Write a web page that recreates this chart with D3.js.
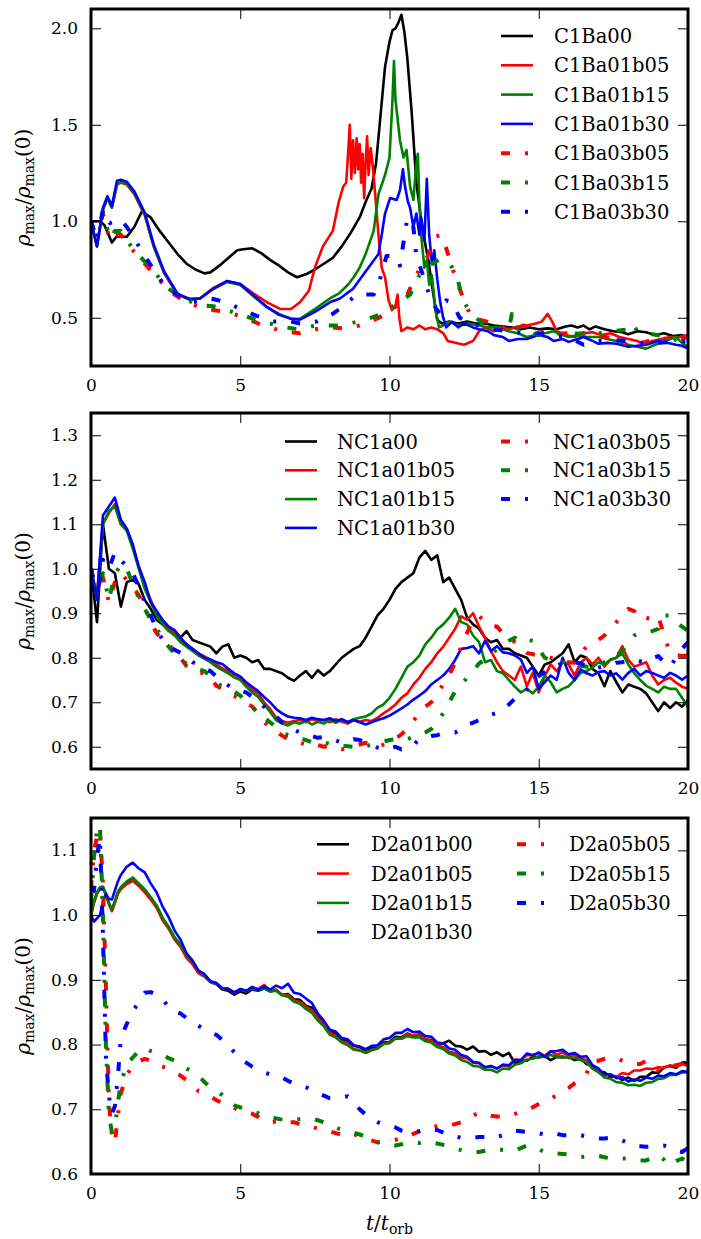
<!DOCTYPE html>
<html lang="en">
<head>
<meta charset="UTF-8" />
<title>rho_max / rho_max(0)</title>
<script src="https://cdn.jsdelivr.net/npm/d3@7"></script>
<style>
  html, body { margin: 0; padding: 0; background: #fff; }
  svg { display: block; }
</style>
</head>
<body>
<svg id="svgBox" width="701" height="1239"></svg>
<script>
// ---------- shared labels / ticks ----------
const xTicks = [0, 5, 10, 15, 20]
const yTicksC1 = [0.5, 1.0, 1.5, 2.0]
const yTicksNC1 = [0.6, 0.7, 0.8, 0.9, 1.0, 1.1, 1.2, 1.3]
const yTicksD2 = [0.6, 0.7, 0.8, 0.9, 1.0, 1.1]

const namesC1 = ['C1Ba00', 'C1Ba01b05', 'C1Ba01b15', 'C1Ba01b30', 'C1Ba03b05', 'C1Ba03b15', 'C1Ba03b30']
const namesNC1 = ['NC1a00', 'NC1a01b05', 'NC1a01b15', 'NC1a01b30', 'NC1a03b05', 'NC1a03b15', 'NC1a03b30']
const namesD2 = ['D2a01b00', 'D2a01b05', 'D2a01b15', 'D2a01b30', 'D2a05b05', 'D2a05b15', 'D2a05b30']
const lineColors = ['#000000', '#ff0000', '#008000', '#0000ff', '#ff0000', '#008000', '#0000ff']
const lineDashed = [false, false, false, false, true, true, true]

// ---------- panel 1 : C1B runs, [t, rho] ----------
const C1Ba00 = [[0,1.00],[0.3,1.00],[0.45,0.98],[0.7,0.89],[0.85,0.92],[1.2,0.92],[1.45,0.97],[1.7,1.05],[2.0,1.02],[2.3,0.95],[2.6,0.89],[2.9,0.83],[3.2,0.78],[3.5,0.75],[3.8,0.73],[4.0,0.735],[4.3,0.77],[4.6,0.81],[4.9,0.85],[5.1,0.855],[5.4,0.86],[5.7,0.835],[6.0,0.80],[6.3,0.77],[6.6,0.735],[6.9,0.71],[7.2,0.725],[7.5,0.75],[7.8,0.78],[8.1,0.81],[8.4,0.87],[8.7,0.94],[9.0,1.02],[9.2,1.10],[9.4,1.17],[9.55,1.30],[9.7,1.55],[9.85,1.80],[10.0,1.93],[10.1,1.99],[10.2,2.00],[10.3,2.03],[10.4,2.07],[10.5,1.98],[10.6,1.84],[10.75,1.55],[10.9,1.20],[11.1,0.96],[11.3,0.80],[11.45,0.64],[11.6,0.49],[11.75,0.47],[12.0,0.48],[12.3,0.47],[12.6,0.48],[12.9,0.47],[13.2,0.47],[13.5,0.46],[13.8,0.455],[14.1,0.45],[14.4,0.44],[14.7,0.45],[15.0,0.44],[15.3,0.445],[15.6,0.44],[15.9,0.455],[16.1,0.46],[16.3,0.45],[16.5,0.46],[16.7,0.44],[16.9,0.455],[17.2,0.44],[17.5,0.43],[17.8,0.425],[18.0,0.415],[18.3,0.43],[18.6,0.425],[18.9,0.41],[19.2,0.42],[19.5,0.405],[19.8,0.41],[20,0.40]]
const C1Ba01b05 = [[0,1.00],[0.2,0.87],[0.4,1.06],[0.55,1.12],[0.7,1.07],[0.87,1.19],[1.0,1.20],[1.2,1.19],[1.45,1.14],[1.8,1.03],[2.1,0.87],[2.45,0.73],[2.9,0.62],[3.3,0.60],[3.65,0.60],[4.1,0.655],[4.55,0.69],[5.0,0.675],[5.45,0.625],[5.9,0.58],[6.35,0.545],[6.7,0.545],[7.0,0.58],[7.3,0.64],[7.5,0.76],[7.77,0.87],[8.1,0.95],[8.3,1.10],[8.45,1.18],[8.55,1.20],[8.6,1.32],[8.67,1.50],[8.72,1.22],[8.78,1.42],[8.84,1.25],[8.9,1.43],[8.95,1.27],[9.0,1.40],[9.05,1.20],[9.1,1.35],[9.15,1.12],[9.2,1.30],[9.25,1.44],[9.3,1.24],[9.37,1.38],[9.45,1.27],[9.52,1.14],[9.63,0.93],[9.74,0.76],[9.85,0.71],[9.97,0.59],[10.08,0.54],[10.2,0.56],[10.27,0.62],[10.33,0.50],[10.4,0.43],[10.6,0.45],[10.8,0.44],[11.0,0.46],[11.2,0.44],[11.4,0.45],[11.6,0.44],[11.8,0.42],[11.95,0.38],[12.2,0.37],[12.5,0.36],[12.8,0.38],[13.0,0.43],[13.2,0.45],[13.5,0.43],[13.8,0.45],[14.0,0.44],[14.3,0.455],[14.6,0.46],[14.9,0.47],[15.1,0.48],[15.3,0.52],[15.45,0.48],[15.6,0.43],[15.9,0.41],[16.2,0.40],[16.5,0.42],[16.8,0.425],[17.1,0.41],[17.4,0.42],[17.7,0.40],[18.0,0.39],[18.3,0.38],[18.5,0.36],[18.8,0.38],[19.1,0.39],[19.4,0.40],[19.7,0.40],[20,0.41]]
const C1Ba01b15 = [[0,1.00],[0.2,0.87],[0.4,1.06],[0.55,1.12],[0.7,1.07],[0.87,1.19],[1.0,1.205],[1.2,1.195],[1.45,1.145],[1.8,1.035],[2.1,0.87],[2.45,0.735],[2.9,0.62],[3.3,0.595],[3.65,0.60],[4.1,0.65],[4.55,0.685],[5.0,0.67],[5.45,0.61],[5.9,0.555],[6.3,0.52],[6.7,0.495],[7.0,0.495],[7.5,0.545],[8.0,0.60],[8.3,0.625],[8.6,0.67],[8.8,0.71],[9.0,0.76],[9.2,0.83],[9.47,0.95],[9.63,1.14],[9.85,1.24],[10.0,1.33],[10.1,1.63],[10.15,1.83],[10.2,1.63],[10.3,1.49],[10.35,1.42],[10.47,1.33],[10.57,1.37],[10.69,1.18],[10.8,1.11],[10.9,1.30],[10.95,1.35],[11.0,1.10],[11.06,0.93],[11.17,0.76],[11.25,0.80],[11.33,0.67],[11.42,0.72],[11.55,0.53],[11.66,0.45],[11.8,0.46],[12.0,0.48],[12.3,0.46],[12.6,0.47],[13.0,0.46],[13.3,0.45],[13.6,0.45],[14.0,0.43],[14.3,0.42],[14.6,0.40],[14.9,0.41],[15.2,0.42],[15.5,0.43],[15.8,0.41],[16.0,0.40],[16.3,0.41],[16.6,0.40],[17.0,0.40],[17.3,0.39],[17.6,0.38],[18.0,0.36],[18.3,0.35],[18.6,0.34],[18.9,0.36],[19.1,0.37],[19.4,0.39],[19.6,0.40],[19.8,0.37],[20,0.35]]
const C1Ba01b30 = [[0,1.00],[0.2,0.87],[0.4,1.07],[0.55,1.13],[0.7,1.08],[0.87,1.21],[1.0,1.215],[1.2,1.205],[1.45,1.155],[1.8,1.045],[2.1,0.88],[2.45,0.74],[2.9,0.625],[3.3,0.595],[3.65,0.60],[4.1,0.65],[4.55,0.69],[5.0,0.675],[5.45,0.615],[5.9,0.555],[6.3,0.515],[6.7,0.495],[7.0,0.49],[7.5,0.53],[8.0,0.58],[8.34,0.60],[8.78,0.65],[9.2,0.74],[9.63,0.83],[9.74,0.93],[9.85,1.04],[10.02,1.12],[10.24,1.11],[10.35,1.16],[10.45,1.27],[10.52,1.18],[10.62,1.10],[10.69,1.07],[10.8,0.97],[10.9,1.04],[11.0,0.93],[11.06,1.02],[11.17,0.90],[11.25,1.22],[11.33,0.93],[11.42,0.78],[11.5,0.85],[11.6,0.70],[11.7,0.58],[11.8,0.50],[11.9,0.45],[12.1,0.48],[12.3,0.45],[12.5,0.47],[12.8,0.45],[13.0,0.44],[13.3,0.43],[13.5,0.41],[13.8,0.40],[14.0,0.38],[14.3,0.39],[14.6,0.39],[15.0,0.41],[15.3,0.40],[15.5,0.38],[15.8,0.39],[16.0,0.375],[16.3,0.39],[16.5,0.40],[16.8,0.38],[17.0,0.365],[17.3,0.37],[17.6,0.365],[18.0,0.35],[18.3,0.355],[18.6,0.36],[19.0,0.38],[19.3,0.37],[19.6,0.36],[19.8,0.355],[20,0.34]]
const C1Ba03b05 = [[0,1.00],[0.2,0.90],[0.4,1.04],[0.55,0.95],[0.65,0.90],[0.8,0.93],[1.0,0.93],[1.2,0.89],[1.4,0.85],[1.8,0.78],[2.1,0.73],[2.6,0.64],[3.0,0.60],[3.4,0.57],[3.7,0.55],[4.1,0.54],[4.5,0.53],[4.75,0.52],[5.2,0.50],[5.6,0.47],[5.9,0.455],[6.4,0.43],[7.0,0.42],[7.5,0.44],[8.0,0.45],[8.5,0.445],[9.0,0.46],[9.5,0.49],[9.9,0.52],[10.3,0.57],[10.6,0.62],[10.8,0.69],[11.0,0.75],[11.25,0.81],[11.55,0.92],[11.72,0.93],[11.9,0.86],[12.1,0.76],[12.35,0.65],[12.6,0.55],[12.8,0.49],[13.0,0.49],[13.5,0.47],[14.0,0.43],[14.5,0.46],[15.0,0.43],[15.5,0.415],[16.0,0.42],[16.5,0.42],[17.0,0.41],[17.5,0.39],[18.0,0.36],[18.5,0.37],[19.0,0.40],[19.5,0.38],[20,0.40]]
const C1Ba03b15 = [[0,1.00],[0.2,0.90],[0.4,1.05],[0.55,0.96],[0.65,0.91],[0.8,0.95],[1.0,0.95],[1.2,0.90],[1.4,0.86],[1.8,0.79],[2.1,0.74],[2.6,0.65],[3.0,0.61],[3.4,0.58],[3.7,0.565],[4.1,0.56],[4.5,0.54],[5.0,0.52],[5.5,0.49],[6.0,0.47],[6.5,0.45],[7.0,0.44],[7.5,0.46],[8.0,0.46],[8.4,0.46],[9.2,0.49],[9.74,0.52],[10.2,0.57],[10.69,0.62],[11.0,0.72],[11.33,0.77],[11.66,0.80],[11.9,0.80],[12.1,0.76],[12.3,0.69],[12.45,0.59],[12.67,0.54],[12.9,0.50],[13.2,0.46],[13.6,0.45],[14.0,0.44],[14.1,0.52],[14.2,0.45],[14.5,0.43],[15.0,0.41],[15.5,0.42],[16.0,0.415],[16.5,0.42],[17.0,0.42],[17.5,0.43],[18.0,0.44],[18.15,0.47],[18.3,0.43],[18.6,0.42],[19.0,0.41],[19.5,0.38],[19.8,0.41],[20,0.43]]
const C1Ba03b30 = [[0,1.00],[0.2,0.90],[0.4,1.06],[0.63,0.99],[0.8,1.00],[1.0,1.01],[1.2,0.97],[1.37,0.93],[1.8,0.82],[2.1,0.75],[2.45,0.67],[2.9,0.62],[3.4,0.58],[4.0,0.60],[4.55,0.58],[5.0,0.545],[5.55,0.51],[6.1,0.48],[6.7,0.48],[7.0,0.47],[7.55,0.48],[8.1,0.52],[8.45,0.56],[8.9,0.62],[9.47,0.62],[9.7,0.71],[9.9,0.82],[10.2,0.82],[10.35,0.77],[10.5,0.92],[10.6,1.02],[10.8,0.97],[10.9,0.82],[11.1,0.73],[11.33,0.62],[11.55,0.55],[11.7,0.52],[11.9,0.59],[12.1,0.58],[12.35,0.50],[12.6,0.48],[13.0,0.46],[13.5,0.44],[14.0,0.43],[14.5,0.42],[15.0,0.42],[15.5,0.41],[16.0,0.40],[16.5,0.36],[17.0,0.38],[17.5,0.385],[18.0,0.38],[18.5,0.37],[19.0,0.37],[19.5,0.375],[20,0.38]]

// ---------- panel 2 : NC1 runs, sampled every 0.2 orbits ----------
const tNC1 = d3.range(0, 20.001, 0.2)
const NC1a00 = [
  1.00, 0.88, 1.10, 1.00, 0.99,
  0.915, 0.97, 0.975, 0.965, 0.93,
  0.91, 0.885, 0.875, 0.865, 0.86,
  0.845, 0.86, 0.84, 0.835, 0.83,
  0.825, 0.81, 0.825, 0.83, 0.80,
  0.805, 0.80, 0.79, 0.795, 0.775,
  0.775, 0.77, 0.765, 0.755, 0.748,
  0.76, 0.77, 0.755, 0.772, 0.76,
  0.77, 0.785, 0.80, 0.81, 0.82,
  0.826, 0.845, 0.87, 0.895, 0.91,
  0.93, 0.955, 0.97, 0.98, 0.99,
  1.025, 1.04, 1.02, 1.03, 0.97,
  0.98, 0.955, 0.93, 0.89, 0.875,
  0.865, 0.845, 0.835, 0.84, 0.82,
  0.82, 0.81, 0.805, 0.80, 0.78,
  0.76, 0.785, 0.79, 0.80, 0.81,
  0.83, 0.79, 0.805, 0.80, 0.775,
  0.765, 0.736, 0.77, 0.745, 0.722,
  0.74, 0.735, 0.73, 0.72, 0.70,
  0.68, 0.70, 0.687, 0.70, 0.69,
  0.705]
const NC1a01b05 = [
  1.00, 0.94, 1.10, 1.125, 1.145,
  1.10, 1.088, 1.05, 1.005, 0.96,
  0.93, 0.90, 0.88, 0.865, 0.855,
  0.84, 0.83, 0.82, 0.81, 0.803,
  0.795, 0.785, 0.776, 0.77, 0.762,
  0.755, 0.74, 0.728, 0.72, 0.70,
  0.685, 0.665, 0.658, 0.654, 0.658,
  0.66, 0.655, 0.662, 0.658, 0.66,
  0.655, 0.662, 0.656, 0.652, 0.66,
  0.656, 0.66, 0.658, 0.665, 0.675,
  0.684, 0.695, 0.71, 0.72, 0.74,
  0.755, 0.775, 0.79, 0.81, 0.825,
  0.845, 0.865, 0.893, 0.885, 0.90,
  0.87, 0.845, 0.815, 0.79, 0.77,
  0.76, 0.75, 0.78, 0.736, 0.766,
  0.722, 0.759, 0.785, 0.77, 0.79,
  0.785, 0.76, 0.789, 0.80, 0.785,
  0.80, 0.78, 0.795, 0.80, 0.826,
  0.795, 0.78, 0.785, 0.79, 0.76,
  0.74, 0.75, 0.755, 0.744, 0.735,
  0.73]
const NC1a01b15 = [
  1.00, 0.935, 1.10, 1.13, 1.14,
  1.10, 1.085, 1.045, 1.00, 0.955,
  0.925, 0.895, 0.875, 0.86, 0.85,
  0.835, 0.825, 0.815, 0.805, 0.798,
  0.79, 0.78, 0.772, 0.765, 0.756,
  0.75, 0.735, 0.722, 0.712, 0.695,
  0.678, 0.66, 0.652, 0.648, 0.655,
  0.652, 0.658, 0.65, 0.656, 0.652,
  0.66, 0.654, 0.66, 0.656, 0.662,
  0.665, 0.668, 0.675, 0.688, 0.695,
  0.71, 0.73, 0.755, 0.78, 0.79,
  0.805, 0.83, 0.845, 0.864, 0.875,
  0.89, 0.91, 0.88, 0.875, 0.85,
  0.835, 0.79, 0.795, 0.77, 0.765,
  0.75, 0.735, 0.722, 0.73, 0.72,
  0.735, 0.76, 0.745, 0.722, 0.73,
  0.736, 0.75, 0.766, 0.77, 0.778,
  0.79, 0.785, 0.796, 0.80, 0.81,
  0.785, 0.765, 0.75, 0.737, 0.73,
  0.722, 0.735, 0.73, 0.73, 0.71,
  0.69]
const NC1a01b30 = [
  1.00, 0.93, 1.12, 1.14, 1.16,
  1.11, 1.09, 1.055, 1.005, 0.97,
  0.925, 0.905, 0.885, 0.87, 0.862,
  0.845, 0.83, 0.82, 0.81, 0.80,
  0.796, 0.79, 0.786, 0.775, 0.765,
  0.758, 0.745, 0.735, 0.725, 0.712,
  0.70, 0.685, 0.675, 0.668, 0.665,
  0.664, 0.66, 0.665, 0.662, 0.66,
  0.664, 0.658, 0.662, 0.655, 0.66,
  0.655, 0.65, 0.655, 0.66, 0.664,
  0.67, 0.678, 0.686, 0.695, 0.706,
  0.715, 0.725, 0.74, 0.75, 0.76,
  0.775, 0.795, 0.82, 0.822, 0.826,
  0.81, 0.838, 0.815, 0.826, 0.812,
  0.81, 0.805, 0.796, 0.766, 0.78,
  0.73, 0.745, 0.76, 0.75, 0.80,
  0.766, 0.75, 0.774, 0.765, 0.76,
  0.768, 0.77, 0.76, 0.765, 0.751,
  0.766, 0.775, 0.76, 0.77, 0.766,
  0.76, 0.755, 0.766, 0.76, 0.751,
  0.76]
const NC1a03b05 = [
  1.00, 0.94, 0.98, 0.925, 0.97,
  0.99, 0.975, 0.96, 0.94, 0.915,
  0.88, 0.855, 0.84, 0.83, 0.815,
  0.80, 0.781, 0.77, 0.766, 0.766,
  0.755, 0.737, 0.73, 0.72, 0.714,
  0.705, 0.699, 0.69, 0.675, 0.655,
  0.645, 0.635, 0.625, 0.617, 0.612,
  0.609, 0.605, 0.609, 0.604, 0.60,
  0.602, 0.597, 0.594, 0.598, 0.601,
  0.605, 0.609, 0.604, 0.60, 0.605,
  0.612, 0.618, 0.628, 0.64, 0.658,
  0.675, 0.69, 0.70, 0.72, 0.74,
  0.76, 0.79, 0.825, 0.856, 0.886,
  0.894, 0.88, 0.872, 0.87, 0.855,
  0.845, 0.835, 0.825, 0.811, 0.808,
  0.805, 0.804, 0.80, 0.796, 0.79,
  0.79, 0.789, 0.805, 0.826, 0.833,
  0.84, 0.85, 0.864, 0.88, 0.895,
  0.91, 0.905, 0.886, 0.89, 0.886,
  0.894, 0.85, 0.811, 0.806, 0.804,
  0.805]
const NC1a03b15 = [
  1.00, 0.94, 0.99, 0.93, 0.987,
  1.01, 1.00, 0.965, 0.935, 0.91,
  0.885, 0.867, 0.84, 0.825, 0.81,
  0.80, 0.785, 0.78, 0.775, 0.77,
  0.76, 0.745, 0.735, 0.73, 0.724,
  0.715, 0.70, 0.688, 0.68, 0.665,
  0.655, 0.645, 0.634, 0.626, 0.624,
  0.62, 0.615, 0.61, 0.608, 0.61,
  0.606, 0.604, 0.602, 0.601, 0.60,
  0.603, 0.601, 0.605, 0.609, 0.612,
  0.615, 0.617, 0.62, 0.617, 0.622,
  0.626, 0.632, 0.64, 0.655, 0.675,
  0.70, 0.725, 0.74, 0.755, 0.77,
  0.787, 0.796, 0.806, 0.82, 0.83,
  0.838, 0.845, 0.835, 0.84, 0.838,
  0.82, 0.80, 0.795, 0.789, 0.79,
  0.789, 0.785, 0.782, 0.78, 0.78,
  0.782, 0.79, 0.796, 0.805, 0.815,
  0.835, 0.85, 0.856, 0.856, 0.86,
  0.865, 0.895, 0.895, 0.88, 0.87,
  0.86]
const NC1a03b30 = [
  1.00, 0.935, 1.02, 1.00, 1.037,
  1.02, 1.005, 0.99, 0.96, 0.925,
  0.895, 0.864, 0.84, 0.825, 0.818,
  0.811, 0.80, 0.79, 0.785, 0.776,
  0.77, 0.758, 0.748, 0.738, 0.729,
  0.726, 0.722, 0.712, 0.702, 0.69,
  0.68, 0.668, 0.655, 0.645, 0.638,
  0.632, 0.628, 0.624, 0.62, 0.622,
  0.618, 0.614, 0.609, 0.612, 0.617,
  0.615, 0.61, 0.605, 0.598, 0.594,
  0.597, 0.60, 0.594, 0.598, 0.604,
  0.617, 0.62, 0.624, 0.626, 0.63,
  0.632, 0.632, 0.64, 0.65, 0.654,
  0.66, 0.666, 0.672, 0.676, 0.684,
  0.695, 0.708, 0.72, 0.729, 0.745,
  0.759, 0.768, 0.778, 0.782, 0.788,
  0.79, 0.789, 0.788, 0.78, 0.774,
  0.778, 0.78, 0.784, 0.789, 0.79,
  0.794, 0.796, 0.792, 0.789, 0.798,
  0.804, 0.79, 0.78, 0.80, 0.82,
  0.835]

// ---------- panel 3 : D2 runs, finer sampling during the first orbit ----------
const tD2 = [0, 0.1, 0.2, 0.3, 0.4, 0.5, 0.6, 0.7, 0.8, 0.9].concat(d3.range(1, 20.001, 0.2))
const D2a01b00 = [
  1.00, 1.02, 1.034, 1.042, 1.043, 1.032, 1.018, 1.007, 1.02, 1.034,
  1.042, 1.05, 1.055, 1.046, 1.037,
  1.026, 1.014, 0.993, 0.981, 0.964,
  0.953, 0.936, 0.926, 0.912, 0.906,
  0.897, 0.893, 0.885, 0.883, 0.877,
  0.882, 0.879, 0.885, 0.883, 0.887,
  0.882, 0.884, 0.877, 0.878, 0.87,
  0.869, 0.86, 0.857, 0.843, 0.834,
  0.82, 0.817, 0.808, 0.806, 0.798,
  0.796, 0.791, 0.795, 0.795, 0.803,
  0.804, 0.812, 0.811, 0.817, 0.813,
  0.815, 0.808, 0.807, 0.80, 0.802,
  0.806, 0.798, 0.797, 0.792, 0.797,
  0.789, 0.79, 0.784, 0.788, 0.782,
  0.787, 0.771, 0.775, 0.775, 0.781,
  0.78, 0.782, 0.776, 0.781, 0.78,
  0.781, 0.776, 0.778, 0.77, 0.767,
  0.758, 0.757, 0.75, 0.751, 0.745,
  0.749, 0.744, 0.75, 0.75, 0.757,
  0.756, 0.765, 0.767, 0.764, 0.772,
  0.772]
const D2a01b05 = [
  1.00, 1.019, 1.033, 1.041, 1.042, 1.031, 1.017, 1.006, 1.019, 1.033,
  1.04, 1.048, 1.053, 1.045, 1.035,
  1.024, 1.011, 0.992, 0.979, 0.962,
  0.951, 0.934, 0.924, 0.91, 0.905,
  0.896, 0.894, 0.886, 0.886, 0.88,
  0.885, 0.882, 0.888, 0.886, 0.892,
  0.884, 0.885, 0.877, 0.876, 0.868,
  0.866, 0.858, 0.853, 0.841, 0.831,
  0.819, 0.813, 0.805, 0.801, 0.793,
  0.791, 0.787, 0.791, 0.794, 0.801,
  0.803, 0.81, 0.81, 0.816, 0.814,
  0.816, 0.808, 0.806, 0.799, 0.796,
  0.789, 0.787, 0.78, 0.779, 0.772,
  0.771, 0.765, 0.766, 0.763, 0.768,
  0.766, 0.777, 0.776, 0.784, 0.783,
  0.788, 0.783, 0.79, 0.784, 0.788,
  0.782, 0.784, 0.778, 0.776, 0.763,
  0.76, 0.752, 0.754, 0.75, 0.756,
  0.754, 0.76, 0.76, 0.763, 0.762,
  0.765, 0.764, 0.768, 0.766, 0.77,
  0.767]
const D2a01b15 = [
  1.00, 1.021, 1.035, 1.043, 1.044, 1.033, 1.019, 1.009, 1.022, 1.036,
  1.043, 1.052, 1.058, 1.049, 1.04,
  1.028, 1.015, 0.996, 0.982, 0.966,
  0.954, 0.939, 0.928, 0.914, 0.907,
  0.898, 0.894, 0.887, 0.886, 0.881,
  0.885, 0.883, 0.886, 0.884, 0.887,
  0.882, 0.883, 0.876, 0.874, 0.866,
  0.863, 0.855, 0.849, 0.837, 0.828,
  0.815, 0.811, 0.803, 0.799, 0.792,
  0.791, 0.788, 0.792, 0.794, 0.801,
  0.802, 0.809, 0.809, 0.813, 0.811,
  0.811, 0.805, 0.803, 0.796, 0.793,
  0.786, 0.783, 0.776, 0.773, 0.767,
  0.766, 0.761, 0.761, 0.757, 0.763,
  0.762, 0.769, 0.771, 0.777, 0.778,
  0.782, 0.781, 0.784, 0.781, 0.782,
  0.779, 0.78, 0.776, 0.773, 0.763,
  0.757, 0.749, 0.747, 0.742, 0.741,
  0.737, 0.738, 0.736, 0.741, 0.742,
  0.747, 0.748, 0.753, 0.753, 0.757,
  0.757]
const D2a01b30 = [
  1.00, 0.99, 0.995, 1.00, 1.02, 1.033, 1.025, 1.024, 1.038, 1.052,
  1.062, 1.075, 1.081, 1.072, 1.066,
  1.049, 1.035, 1.013, 0.997, 0.976,
  0.962, 0.941, 0.93, 0.914, 0.909,
  0.898, 0.895, 0.887, 0.886, 0.88,
  0.886, 0.883, 0.889, 0.884, 0.89,
  0.885, 0.891, 0.887, 0.894, 0.88,
  0.878, 0.871, 0.864, 0.848, 0.837,
  0.823, 0.82, 0.81, 0.808, 0.799,
  0.797, 0.793, 0.798, 0.799, 0.808,
  0.81, 0.818, 0.818, 0.824, 0.819,
  0.82, 0.813, 0.812, 0.803, 0.802,
  0.794, 0.792, 0.784, 0.781, 0.773,
  0.772, 0.765, 0.767, 0.763, 0.769,
  0.768, 0.776, 0.776, 0.786, 0.784,
  0.787, 0.781, 0.789, 0.79, 0.792,
  0.785, 0.787, 0.781, 0.782, 0.768,
  0.763, 0.754, 0.754, 0.748, 0.75,
  0.743, 0.746, 0.744, 0.749, 0.747,
  0.752, 0.751, 0.756, 0.754, 0.759,
  0.758]
const D2a05b05 = [
  1.04, 1.10, 1.12, 1.13, 1.05, 0.89, 0.71, 0.66, 0.648, 0.69,
  0.725, 0.753, 0.768, 0.774, 0.778,
  0.775, 0.768, 0.766, 0.762, 0.757,
  0.752, 0.745, 0.737, 0.728, 0.726,
  0.72, 0.714, 0.71, 0.708, 0.702,
  0.698, 0.695, 0.693, 0.688, 0.682,
  0.68, 0.681, 0.679, 0.68, 0.68,
  0.677, 0.675, 0.673, 0.67, 0.668,
  0.666, 0.663, 0.661, 0.659, 0.662,
  0.657, 0.655, 0.652, 0.649, 0.651,
  0.652, 0.653, 0.655, 0.657, 0.662,
  0.666, 0.668, 0.672, 0.674, 0.676,
  0.675, 0.677, 0.68, 0.686, 0.69,
  0.695, 0.693, 0.69, 0.689, 0.688,
  0.69, 0.693, 0.696, 0.698, 0.703,
  0.708, 0.712, 0.716, 0.722, 0.728,
  0.733, 0.74, 0.745, 0.755, 0.775,
  0.775, 0.778, 0.78, 0.779, 0.775,
  0.772, 0.77, 0.77, 0.775, 0.765,
  0.76, 0.762, 0.765, 0.768, 0.77,
  0.77]
const D2a05b15 = [
  1.02, 1.09, 1.13, 1.14, 1.00, 0.80, 0.69, 0.665, 0.672, 0.71,
  0.74, 0.77, 0.78, 0.79, 0.795,
  0.79, 0.787, 0.784, 0.779, 0.775,
  0.77, 0.763, 0.758, 0.752, 0.742,
  0.734, 0.728, 0.722, 0.712, 0.706,
  0.703, 0.70, 0.697, 0.694, 0.69,
  0.688, 0.686, 0.684, 0.683, 0.684,
  0.685, 0.687, 0.686, 0.683, 0.68,
  0.676, 0.672, 0.668, 0.666, 0.664,
  0.661, 0.658, 0.654, 0.649, 0.646,
  0.645, 0.644, 0.646, 0.648, 0.649,
  0.648, 0.65, 0.649, 0.647, 0.645,
  0.643, 0.64, 0.637, 0.635, 0.634,
  0.634, 0.636, 0.638, 0.639, 0.637,
  0.636, 0.636, 0.64, 0.644, 0.642,
  0.638, 0.634, 0.633, 0.632, 0.631,
  0.63, 0.628, 0.626, 0.627, 0.629,
  0.628, 0.626, 0.624, 0.625, 0.624,
  0.624, 0.622, 0.621, 0.621, 0.625,
  0.629, 0.622, 0.613, 0.62, 0.624,
  0.618]
const D2a05b30 = [
  1.04, 1.037, 1.09, 1.12, 0.97, 0.78, 0.72, 0.693, 0.705, 0.75,
  0.81, 0.832, 0.852, 0.865, 0.88,
  0.881, 0.877, 0.871, 0.857, 0.851,
  0.848, 0.841, 0.835, 0.829, 0.824,
  0.819, 0.815, 0.807, 0.799, 0.788,
  0.777, 0.772, 0.766, 0.762, 0.757,
  0.754, 0.751, 0.749, 0.744, 0.74,
  0.737, 0.734, 0.73, 0.725, 0.721,
  0.717, 0.717, 0.718, 0.72, 0.712,
  0.70, 0.692, 0.685, 0.68, 0.677,
  0.675, 0.672, 0.667, 0.665, 0.665,
  0.666, 0.668, 0.67, 0.668, 0.664,
  0.66, 0.658, 0.656, 0.655, 0.656,
  0.657, 0.657, 0.655, 0.657, 0.66,
  0.664, 0.667, 0.666, 0.665, 0.665,
  0.663, 0.661, 0.66, 0.662, 0.66,
  0.66, 0.661, 0.66, 0.658, 0.656,
  0.655, 0.655, 0.656, 0.655, 0.652,
  0.647, 0.644, 0.643, 0.642, 0.642,
  0.644, 0.644, 0.64, 0.636, 0.634,
  0.64]

// ---------- build panels ----------
const onGrid = (ts, vs) => ts.map((t, i) => [t, vs[i]])

const panels = [
  {
    top: 9, bottom: 366, domain: [0.25, 2.1], yTicks: yTicksC1, yFmt: '.1f',
    series: [C1Ba00, C1Ba01b05, C1Ba01b15, C1Ba01b30, C1Ba03b05, C1Ba03b15, C1Ba03b30],
    names: namesC1,
    legend: { rowY: 36, step: 29.3, cols: [{ lineX: 501, textX: 554, items: [0, 1, 2, 3, 4, 5, 6] }] }
  },
  {
    top: 413, bottom: 769, domain: [0.55, 1.35], yTicks: yTicksNC1, yFmt: '.1f',
    series: [NC1a00, NC1a01b05, NC1a01b15, NC1a01b30, NC1a03b05, NC1a03b15, NC1a03b30].map(v => onGrid(tNC1, v)),
    names: namesNC1,
    legend: { rowY: 441.5, step: 28.8, cols: [{ lineX: 285, textX: 337, items: [0, 1, 2, 3] }, { lineX: 501, textX: 553, items: [4, 5, 6] }] }
  },
  {
    top: 818, bottom: 1174, domain: [0.6, 1.15], yTicks: yTicksD2, yFmt: '.1f',
    series: [D2a01b00, D2a01b05, D2a01b15, D2a01b30, D2a05b05, D2a05b15, D2a05b30].map(v => onGrid(tD2, v)),
    names: namesD2,
    legend: { rowY: 844.3, step: 29.3, cols: [{ lineX: 317, textX: 371, items: [0, 1, 2, 3] }, { lineX: 517, textX: 569, items: [4, 5, 6] }] },
    xLabel: true
  }
]

const svg = d3.select('#svgBox')
const plotLeft = 91, plotRight = 688
const serif = "'DejaVu Serif', serif"
const dashPattern = '9,15,3,15'
const x = d3.scaleLinear().domain([0, 20]).range([plotLeft, plotRight])

panels.forEach((p, pi) => {
  const y = d3.scaleLinear().domain(p.domain).range([p.bottom, p.top])
  const g = svg.append('g').attr('class', 'panel' + pi)

  // clip to the axes box
  g.append('clipPath').attr('id', 'clip' + pi)
    .append('rect').attr('x', plotLeft).attr('y', p.top)
    .attr('width', plotRight - plotLeft).attr('height', p.bottom - p.top)

  const line = d3.line().x(d => x(d[0])).y(d => y(d[1]))
  const lines = g.append('g').attr('clip-path', `url(#clip${pi})`)
  p.series.forEach((s, i) => {
    lines.append('path')
      .attr('d', line(s))
      .attr('fill', 'none')
      .attr('stroke', lineColors[i])
      .attr('stroke-width', lineDashed[i] ? 4 : 2.6)
      .attr('stroke-dasharray', lineDashed[i] ? dashPattern : null)
      .attr('stroke-linejoin', 'round')
  })

  // axes, ticks pointing inward on all four sides
  const styleAxis = sel => {
    sel.select('.domain').remove()
    sel.selectAll('.tick line').attr('stroke', '#000').attr('stroke-width', 1)
    sel.selectAll('text').attr('font-family', serif).attr('font-size', 17).attr('fill', '#000')
  }
  g.append('g').attr('transform', `translate(0,${p.bottom})`)
    .call(d3.axisBottom(x).tickValues(xTicks).tickSize(-10).tickPadding(13).tickFormat(d3.format('d')))
    .call(styleAxis)
  g.append('g').attr('transform', `translate(0,${p.top})`)
    .call(d3.axisTop(x).tickValues(xTicks).tickSize(-10).tickFormat(''))
    .call(styleAxis)
  g.append('g').attr('transform', `translate(${plotLeft},0)`)
    .call(d3.axisLeft(y).tickValues(p.yTicks).tickSize(-10).tickPadding(13).tickFormat(d3.format(p.yFmt)))
    .call(styleAxis)
  g.append('g').attr('transform', `translate(${plotRight},0)`)
    .call(d3.axisRight(y).tickValues(p.yTicks).tickSize(-10).tickFormat(''))
    .call(styleAxis)

  g.append('rect')
    .attr('x', plotLeft).attr('y', p.top)
    .attr('width', plotRight - plotLeft).attr('height', p.bottom - p.top)
    .attr('fill', 'none').attr('stroke', '#000').attr('stroke-width', 3)

  // legend
  const lg = g.append('g')
  p.legend.cols.forEach(col => {
    col.items.forEach((idx, r) => {
      const ry = p.legend.rowY + r * p.legend.step
      lg.append('line')
        .attr('x1', col.lineX).attr('x2', col.lineX + 32)
        .attr('y1', ry).attr('y2', ry)
        .attr('stroke', lineColors[idx])
        .attr('stroke-width', lineDashed[idx] ? 4 : 2.6)
        .attr('stroke-dasharray', lineDashed[idx] ? dashPattern : null)
      lg.append('text')
        .attr('x', col.textX).attr('y', ry + 7)
        .attr('font-family', serif).attr('font-size', 19.5)
        .text(p.names[idx])
    })
  })

  // y label: rho_max / rho_max(0)
  const cy = (p.top + p.bottom) / 2
  const yl = g.append('text')
    .attr('transform', `translate(30,${cy}) rotate(-90)`)
    .attr('text-anchor', 'middle')
    .attr('font-family', serif).attr('font-size', 20)
  yl.append('tspan').attr('font-style', 'italic').text('ρ')
  yl.append('tspan').attr('font-size', 14).attr('dy', 4).text('max')
  yl.append('tspan').attr('dy', -4).text('/')
  yl.append('tspan').attr('font-style', 'italic').text('ρ')
  yl.append('tspan').attr('font-size', 14).attr('dy', 4).text('max')
  yl.append('tspan').attr('dy', -4).text('(0)')

  if (p.xLabel) {
    const xl = g.append('text')
      .attr('x', (plotLeft + plotRight) / 2).attr('y', 1230)
      .attr('text-anchor', 'middle')
      .attr('font-family', serif).attr('font-size', 20)
    xl.append('tspan').attr('font-style', 'italic').text('t')
    xl.append('tspan').text('/')
    xl.append('tspan').attr('font-style', 'italic').text('t')
    xl.append('tspan').attr('font-size', 14).attr('dy', 4).text('orb')
  }
})
</script>
</body>
</html>
